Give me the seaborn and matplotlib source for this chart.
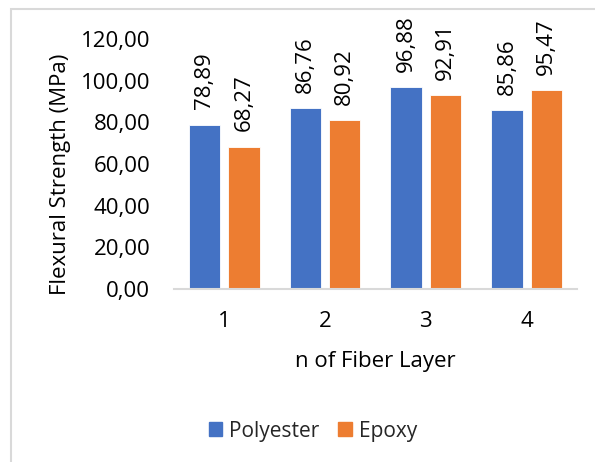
import matplotlib
matplotlib.use("Agg")
import matplotlib.pyplot as plt
from matplotlib.patches import Rectangle
from matplotlib.ticker import FuncFormatter
import pandas as pd
import seaborn as sns

layers = ["1", "2", "3", "4"]
polyester = [78.89, 86.76, 96.88, 85.86]
epoxy = [68.27, 80.92, 92.91, 95.47]
series_names = ["Polyester", "Epoxy"]
colors = ["#4472C4", "#ED7D31"]

df = pd.DataFrame({
    "layer": layers * 2,
    "value": polyester + epoxy,
    "resin": [series_names[0]] * 4 + [series_names[1]] * 4,
})

sns.set_theme(style="white")
plt.rcParams["font.family"] = ["Open Sans", "DejaVu Sans"]
FS = 16

fig = plt.figure(figsize=(5.95, 4.62), dpi=100)
ax = fig.add_axes([0.2924, 0.3745, 0.6773, 0.5411])

sns.barplot(data=df, x="layer", y="value", hue="resin", order=layers,
            hue_order=series_names, palette=colors, saturation=1,
            width=0.78, gap=0.2, edgecolor="white", linewidth=0.6,
            ax=ax, legend=True)

def comma(v):
    return f"{v:.2f}".replace(".", ",")

for cont in ax.containers:
    vals = [b.get_height() for b in cont]
    ax.bar_label(cont, labels=[comma(v) for v in vals], rotation=90,
                 padding=11, fontsize=FS, color="#000000")

ax.set_ylim(0, 120)
ax.set_xlim(-0.5, 3.5)
ax.set_yticks(range(0, 121, 20))
ax.yaxis.set_major_formatter(FuncFormatter(lambda v, p: comma(v)))
ax.tick_params(axis="both", length=0, labelsize=FS, colors="#000000")
ax.tick_params(axis="y", pad=17)
ax.tick_params(axis="x", pad=16)

for s in ["top", "right", "left"]:
    ax.spines[s].set_visible(False)
ax.spines["bottom"].set_color("#d9d9d9")
ax.spines["bottom"].set_linewidth(1.5)

ax.set_xlabel("n of Fiber Layer", fontsize=FS, color="#000000")
ax.set_ylabel("Flexural Strength (MPa)", fontsize=FS, color="#000000")
ax.xaxis.set_label_coords(0.5, -0.25)
ax.yaxis.set_label_coords(-0.255, 0.46)

ax.get_legend().remove()
handles = [Rectangle((0, 0), 1, 1, color=c) for c in colors]
fig.legend(handles, series_names, loc="center", bbox_to_anchor=(0.526, 0.067),
           ncol=2, frameon=False, fontsize=15, handlelength=0.65,
           handleheight=0.65, handletextpad=0.35, columnspacing=0.9)

# light chart-area frame
fig.patches.append(Rectangle((11 / 595, -0.05), 1.2, 1 - 9 / 462 + 0.05,
                             transform=fig.transFigure, fill=False,
                             edgecolor="#d9d9d9", linewidth=1.5))

fig.savefig("out.png", dpi=100, facecolor="white")
